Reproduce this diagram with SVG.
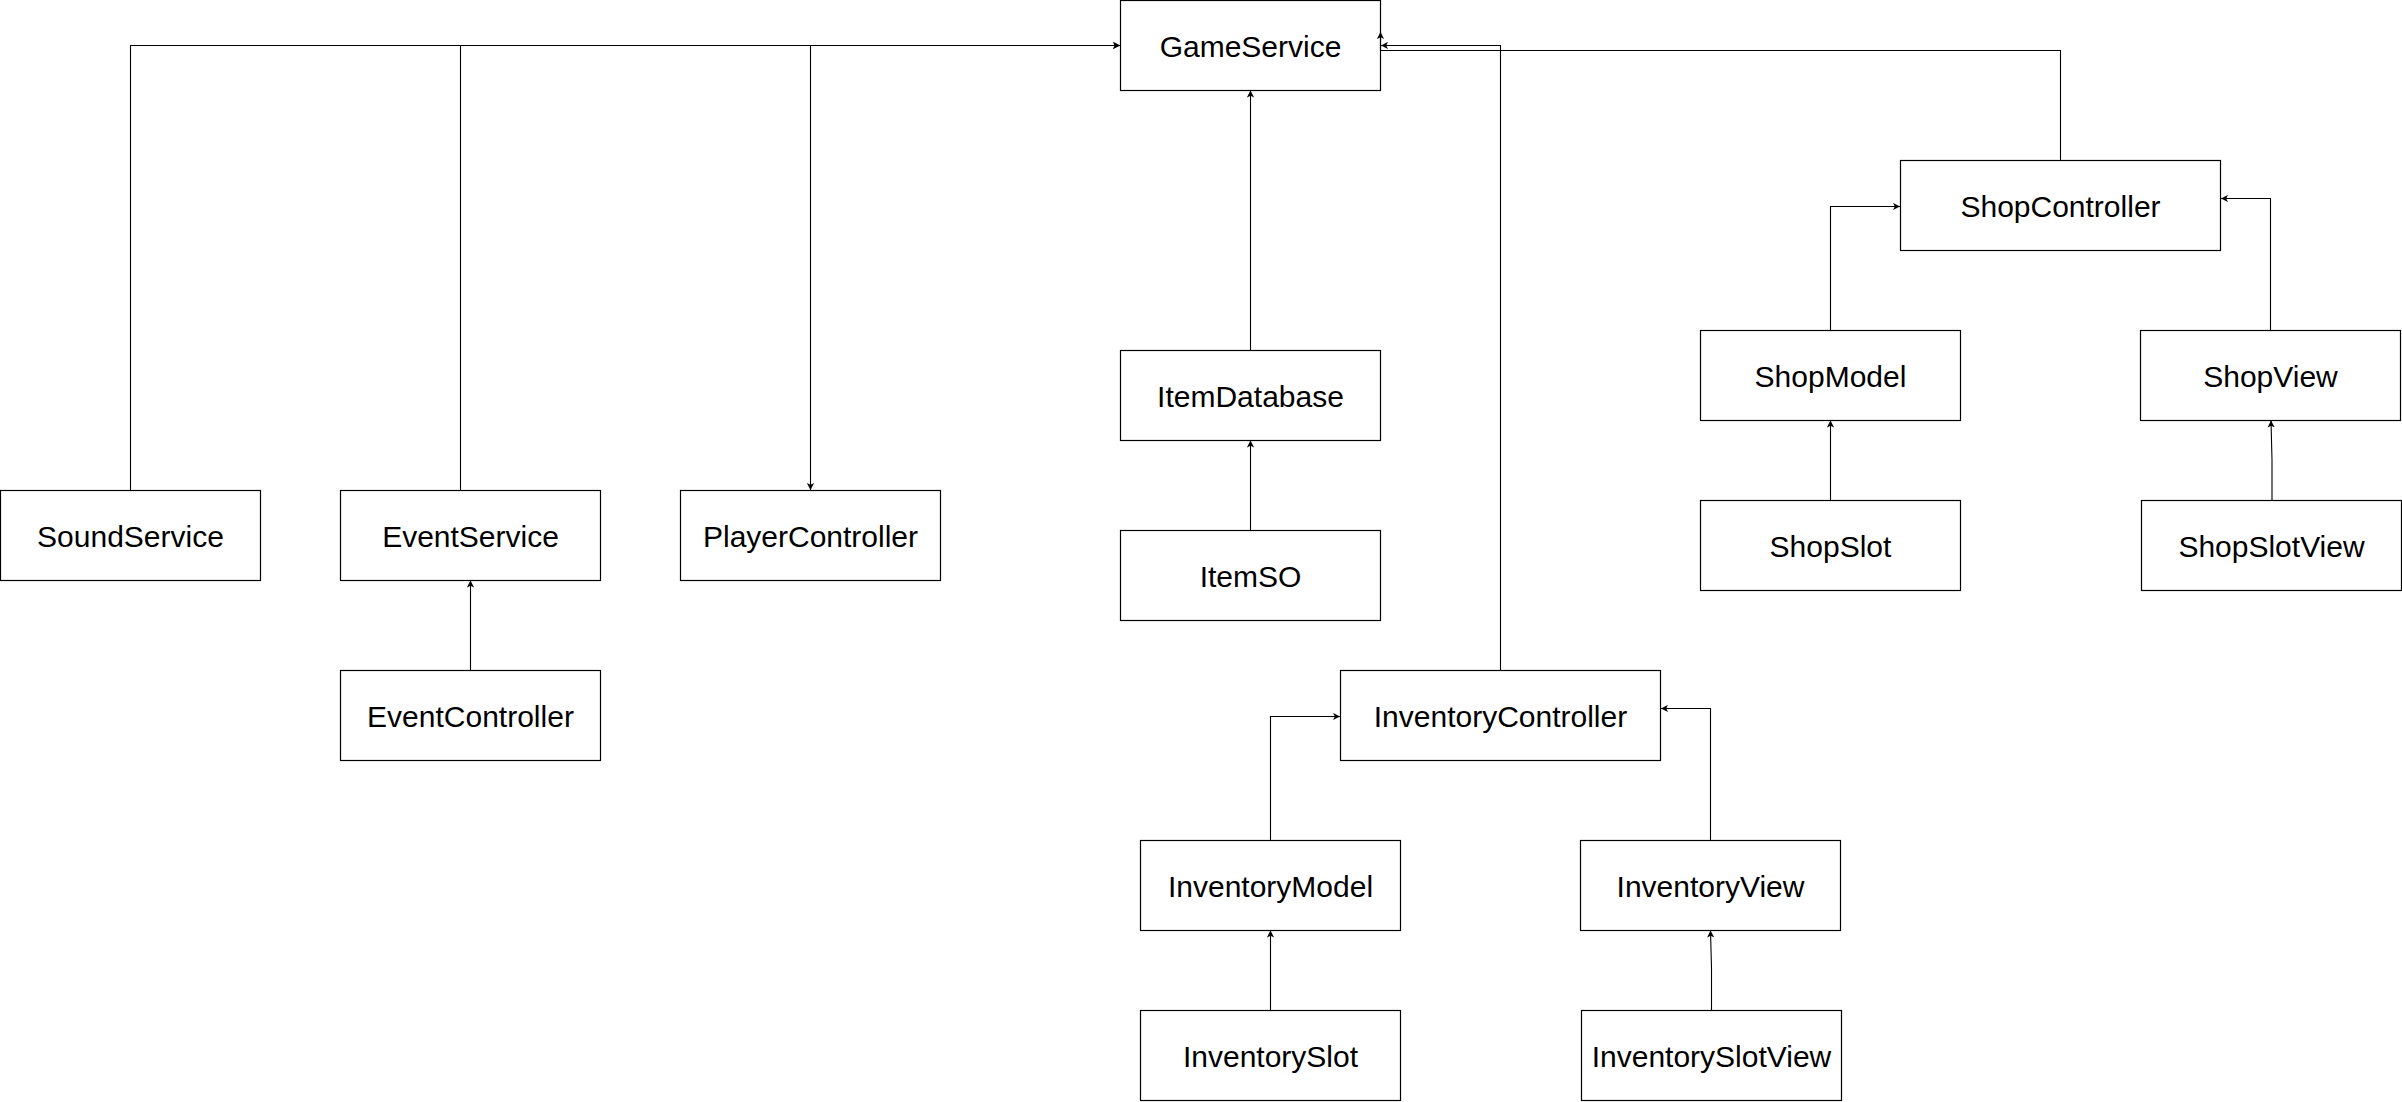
<svg xmlns="http://www.w3.org/2000/svg" width="2402" height="1102" viewBox="0 0 2402 1102">
<style>
.node rect{fill:#ffffff;stroke:#000000;stroke-width:1.2}
.node text{font-family:"Liberation Sans",Arial,Helvetica,sans-serif;font-size:30px;fill:#000000;text-anchor:middle}
.edge{fill:none;stroke:#000000;stroke-width:1.1}
</style>
<defs>
<marker id="arr" viewBox="0 0 7 8" markerWidth="7" markerHeight="8" refX="7" refY="4" orient="auto" markerUnits="userSpaceOnUse">
<path d="M0,0.4 L7,4 L0,7.6 L1.8,4 Z" fill="#000000"/>
</marker>
</defs>
<rect x="0" y="0" width="2402" height="1102" fill="#ffffff"/>
<g id="GameService" class="node"><rect x="1120.5" y="0.5" width="260" height="90"/><text x="1250.5" y="56.5">GameService</text></g>
<g id="ItemDatabase" class="node"><rect x="1120.5" y="350.5" width="260" height="90"/><text x="1250.5" y="406.5">ItemDatabase</text></g>
<g id="ItemSO" class="node"><rect x="1120.5" y="530.5" width="260" height="90"/><text x="1250.5" y="586.5">ItemSO</text></g>
<g id="SoundService" class="node"><rect x="0.5" y="490.5" width="260" height="90"/><text x="130.5" y="546.5">SoundService</text></g>
<g id="EventService" class="node"><rect x="340.5" y="490.5" width="260" height="90"/><text x="470.5" y="546.5">EventService</text></g>
<g id="PlayerController" class="node"><rect x="680.5" y="490.5" width="260" height="90"/><text x="810.5" y="546.5">PlayerController</text></g>
<g id="EventController" class="node"><rect x="340.5" y="670.5" width="260" height="90"/><text x="470.5" y="726.5">EventController</text></g>
<g id="InventoryController" class="node"><rect x="1340.5" y="670.5" width="320" height="90"/><text x="1500.5" y="726.5">InventoryController</text></g>
<g id="InventoryModel" class="node"><rect x="1140.5" y="840.5" width="260" height="90"/><text x="1270.5" y="896.5">InventoryModel</text></g>
<g id="InventoryView" class="node"><rect x="1580.5" y="840.5" width="260" height="90"/><text x="1710.5" y="896.5">InventoryView</text></g>
<g id="InventorySlot" class="node"><rect x="1140.5" y="1010.5" width="260" height="90"/><text x="1270.5" y="1066.5">InventorySlot</text></g>
<g id="InventorySlotView" class="node"><rect x="1581.5" y="1010.5" width="260" height="90"/><text x="1711.5" y="1066.5">InventorySlotView</text></g>
<g id="ShopController" class="node"><rect x="1900.5" y="160.5" width="320" height="90"/><text x="2060.5" y="216.5">ShopController</text></g>
<g id="ShopModel" class="node"><rect x="1700.5" y="330.5" width="260" height="90"/><text x="1830.5" y="386.5">ShopModel</text></g>
<g id="ShopView" class="node"><rect x="2140.5" y="330.5" width="260" height="90"/><text x="2270.5" y="386.5">ShopView</text></g>
<g id="ShopSlot" class="node"><rect x="1700.5" y="500.5" width="260" height="90"/><text x="1830.5" y="556.5">ShopSlot</text></g>
<g id="ShopSlotView" class="node"><rect x="2141.5" y="500.5" width="260" height="90"/><text x="2271.5" y="556.5">ShopSlotView</text></g>
<g id="connectors">
<path class="edge" d="M130.5,490 V45.5 H1120" marker-end="url(#arr)"/>
<path class="edge" d="M460.5,490 V45.5 H1120" marker-end="url(#arr)"/>
<path class="edge" d="M1120,45.5 H810.5 V490" marker-end="url(#arr)"/>
<path class="edge" d="M470.5,670 V580.5" marker-end="url(#arr)"/>
<path class="edge" d="M1250.5,350 V90.5" marker-end="url(#arr)"/>
<path class="edge" d="M1250.5,530 V440.5" marker-end="url(#arr)"/>
<path class="edge" d="M1500.5,670 V45.5 H1381" marker-end="url(#arr)"/>
<path class="edge" d="M2060.5,160 V50.5 H1380.5 V32" marker-end="url(#arr)"/>
<path class="edge" d="M1270.5,840 V716.5 H1340" marker-end="url(#arr)"/>
<path class="edge" d="M1710.5,840 V708.5 H1661" marker-end="url(#arr)"/>
<path class="edge" d="M1270.5,1010 V930.5" marker-end="url(#arr)"/>
<path class="edge" d="M1711.5,1010 V968 L1710.5,930.5" marker-end="url(#arr)"/>
<path class="edge" d="M1830.5,330 V206.5 H1900" marker-end="url(#arr)"/>
<path class="edge" d="M2270.5,330 V198.5 H2221" marker-end="url(#arr)"/>
<path class="edge" d="M1830.5,500 V420.5" marker-end="url(#arr)"/>
<path class="edge" d="M2272,500 V460 L2271,420.5" marker-end="url(#arr)"/>
</g>
</svg>
